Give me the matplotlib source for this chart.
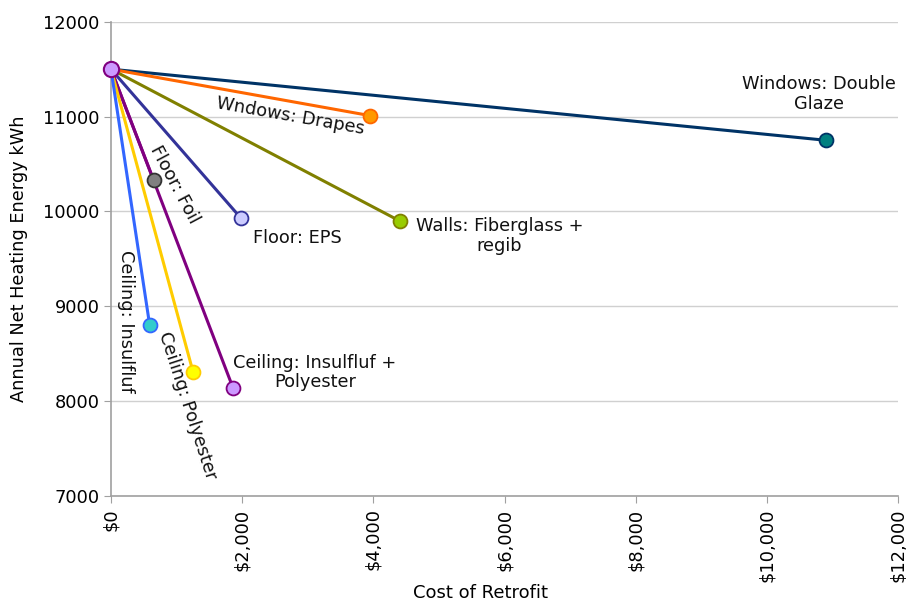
import matplotlib
matplotlib.use("Agg")
import matplotlib.pyplot as plt
from matplotlib.ticker import FuncFormatter

# retrofit options: cost ($) and resulting annual heating energy (kWh)
base_cost = 0
base_energy = 11500

options = ["Windows: Double\nGlaze", "Wndows: Drapes", "Walls: Fiberglass +\nregib",
           "Floor: EPS", "Floor: Foil", "Ceiling: Insulfluf + Polyester",
           "Ceiling: Polyester", "Ceiling: Insulfluf"]
costs = [10900, 3950, 4400, 1980, 650, 1860, 1250, 590]
energy = [10750, 11010, 9900, 9930, 10330, 8140, 8310, 8800]

line_colors = ["#003366", "#FF6600", "#808000", "#333399", "#800080",
               "#800080", "#FFCC00", "#3366FF"]
face_colors = ["#008080", "#FF9900", "#99CC00", "#CCCCFF", "#808080",
               "#CC99FF", "#FFFF00", "#33CCCC"]
edge_colors = ["#003366", "#FF6600", "#808000", "#333399", "#333333",
               "#800080", "#FFCC00", "#3366FF"]

# label text, position (data units), rotation
labels = [
    ("Windows: Double\nGlaze", 10800, 11240, 0),
    ("Wndows: Drapes", 2740, 11000, -10),
    ("Walls: Fiberglass +\nregib", 5920, 9740, 0),
    ("Floor: EPS", 2840, 9720, 0),
    ("Floor: Foil", 970, 10280, -62),
    ("Ceiling: Insulfluf +\nPolyester", 3110, 8300, 0),
    ("Ceiling: Polyester", 1160, 7950, -72),
    ("Ceiling: Insulfluf", 230, 8840, -90),
]

plt.rcParams["font.family"] = ["DejaVu Sans"]
fig = plt.figure(figsize=(9.06, 6.04), dpi=100)
ax = fig.add_axes([0.1225, 0.179, 0.8687, 0.785])

# draw lines first, then markers on top
for i in range(len(costs)):
    ax.plot([base_cost, costs[i]], [base_energy, energy[i]],
            color=line_colors[i], lw=2.2, zorder=3, solid_capstyle="butt")
for i in range(len(costs)):
    ax.plot(costs[i], energy[i], "o", ms=10, mfc=face_colors[i],
            mec=edge_colors[i], mew=1.3, zorder=5)
ax.plot(base_cost, base_energy, "o", ms=11, mfc="#CC99FF", mec="#800080",
        mew=1.5, zorder=6, clip_on=False)

for text, x, y, rot in labels:
    ax.text(x, y, text, ha="center", va="center", rotation=rot,
            rotation_mode="anchor", fontsize=12.8, color="#111111",
            linespacing=1.1, zorder=7)

ax.set_xlim(0, 12000)
ax.set_ylim(7000, 12000)
ax.set_xticks(range(0, 12001, 2000))
ax.set_yticks(range(7000, 12001, 1000))
ax.xaxis.set_major_formatter(FuncFormatter(lambda v, p: "${:,.0f}".format(v)))
ax.tick_params(axis="x", rotation=90, labelsize=12.8, length=5, color="#a0a0a0",
               pad=4)
ax.tick_params(axis="y", labelsize=12.8, length=5, color="#a0a0a0", pad=3)
for lab in ax.get_xticklabels():
    lab.set_verticalalignment("top")

ax.grid(axis="y", color="#d0d0d0", lw=1)
ax.set_axisbelow(True)
for side in ["top", "right"]:
    ax.spines[side].set_visible(False)
for side in ["left", "bottom"]:
    ax.spines[side].set_color("#a0a0a0")
    ax.spines[side].set_linewidth(1.2)

ax.set_xlabel("Cost of Retrofit", fontsize=13)
ax.xaxis.set_label_coords(0.47, -0.185)
ax.set_ylabel("Annual Net Heating Energy kWh", fontsize=12.8)
ax.yaxis.set_label_coords(-0.105, 0.5)

fig.savefig("out.png", dpi=100)
